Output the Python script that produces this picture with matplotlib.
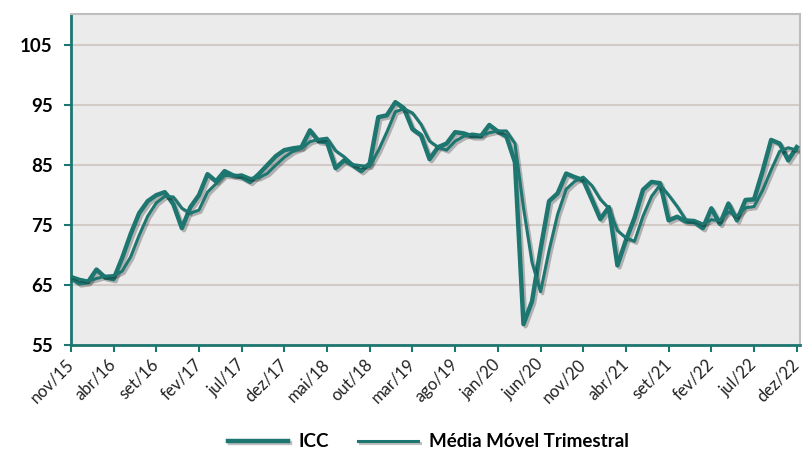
import matplotlib
matplotlib.use("Agg")
import matplotlib.pyplot as plt
import matplotlib.patheffects as pe
import matplotlib.transforms as mtransforms

# monthly series nov/15 .. dez/22
meses = ["nov/15", "abr/16", "set/16", "fev/17", "jul/17", "dez/17", "mai/18",
         "out/18", "mar/19", "ago/19", "jan/20", "jun/20", "nov/20", "abr/21",
         "set/21", "fev/22", "jul/22", "dez/22"]

icc = [66.2, 65.3, 65.5, 67.6, 66.3, 66.0, 69.5, 73.5, 77.0, 79.0,
       80.0, 80.5, 78.5, 74.5, 78.0, 80.0, 83.5, 82.3, 84.0, 83.3,
       83.0, 82.2, 83.5, 85.0, 86.5, 87.5, 87.8, 88.0, 90.8, 89.0,
       88.8, 84.5, 85.8, 85.0, 84.0, 85.3, 93.0, 93.3, 95.5, 94.5,
       91.0, 90.0, 86.0, 88.0, 88.6, 90.5, 90.3, 89.8, 89.8, 91.7,
       90.6, 89.8, 85.5, 58.5, 62.3, 71.0, 79.0, 80.3, 83.6, 83.0,
       82.5, 79.3, 76.0, 78.0, 68.3, 72.5, 76.2, 80.9, 82.2, 82.0,
       75.8, 76.4, 75.6, 75.5, 74.5, 77.8, 75.2, 78.6, 75.8, 79.2,
       79.3, 84.0, 89.2, 88.6, 85.8, 88.0]

media_movel = [66.5, 66.0, 65.7, 66.1, 66.5, 66.6, 67.3, 69.7, 73.3, 76.5,
               78.7, 79.8, 79.7, 77.8, 77.0, 77.5, 80.5, 81.9, 83.3, 83.2,
               83.4, 82.8, 82.9, 83.6, 85.0, 86.3, 87.3, 87.8, 88.9, 89.3,
               89.5, 87.4, 86.4, 85.1, 84.9, 84.8, 87.4, 90.5, 93.9, 94.4,
               93.7, 91.8, 89.0, 88.0, 87.5, 89.0, 89.8, 90.2, 90.0, 90.4,
               90.7, 90.7, 88.6, 77.9, 68.8, 63.9, 70.8, 76.8, 81.0, 82.3,
               83.0, 81.6, 79.3, 77.8, 74.1, 72.9, 72.3, 76.5, 79.8, 81.7,
               80.0, 78.1, 75.9, 75.8, 75.2, 75.9, 75.8, 77.2, 76.5, 77.9,
               78.1, 80.8, 84.2, 87.3, 87.9, 87.5]

teal = "#1e7670"
x = list(range(len(icc)))

fig = plt.figure(figsize=(8.05, 4.5), dpi=100)
ax = fig.add_axes([0.088, 0.233, 0.906, 0.736])
ax.set_facecolor("#ebebeb")

sombra = [pe.SimpleLineShadow(offset=(1.5, -1.5), alpha=0.25), pe.Normal()]
ax.plot(x, icc, color=teal, lw=3.2, label="ICC", path_effects=sombra, zorder=3)
ax.plot(x, media_movel, color=teal, lw=2.2, label="Média Móvel Trimestral",
        path_effects=sombra, zorder=3)

ax.set_xlim(0, 85.4)
ax.set_ylim(55, 110.2)
ax.set_yticks([55, 65, 75, 85, 95, 105])
ax.set_xticks(range(0, 86, 5))
ax.set_xticklabels(meses, rotation=45, ha="right", va="center",
                   rotation_mode="anchor", fontsize=12, color="#222222",
                   family="Lato")
# nudge labels a little so the last one stays inside the figure
desloc = mtransforms.ScaledTranslation(-2 / 72, 0, fig.dpi_scale_trans)
for lbl in ax.get_xticklabels():
    lbl.set_transform(lbl.get_transform() + desloc)
for lbl in ax.get_yticklabels():
    lbl.set_fontweight("bold")
    lbl.set_fontsize(13.5)
    lbl.set_family("Lato")

ax.grid(axis="y", color="#d3cbc7", lw=1.5)
ax.set_axisbelow(True)
for s in ["top", "right"]:
    ax.spines[s].set_color("#bdbdbd")
    ax.spines[s].set_linewidth(1.5)
for s in ["left", "bottom"]:
    ax.spines[s].set_color(teal)
    ax.spines[s].set_linewidth(2)
ax.tick_params(axis="both", color=teal, length=5, width=1.5)
ax.tick_params(axis="y", pad=8)
ax.tick_params(axis="x", pad=7)

ax.legend(loc="upper center", bbox_to_anchor=(0.49, -0.215), ncol=2, frameon=False,
          prop={"family": "Lato", "weight": "bold", "size": 13.5},
          handlelength=3.2, columnspacing=1.5, handletextpad=0.6)

fig.savefig("out.png", dpi=100)
plt.close()
